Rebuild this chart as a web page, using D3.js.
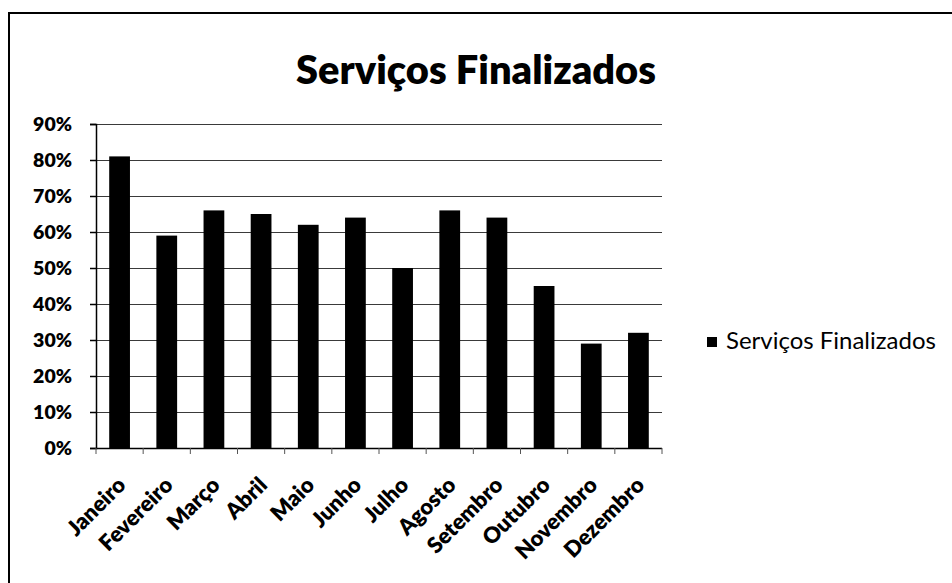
<!DOCTYPE html>
<html>
<head>
<meta charset="utf-8">
<script src="https://cdn.jsdelivr.net/npm/d3@7"></script>
<style>
  body { margin: 0; background: #fff; }
  svg { display: block; }
  text { font-family: Lato, "Open Sans", sans-serif; fill: #000; }
</style>
</head>
<body>
<svg id="chart" width="952" height="583"></svg>
<script>
// dados do grafico
const meses = ["Janeiro", "Fevereiro", "Março", "Abril", "Maio", "Junho",
  "Julho", "Agosto", "Setembro", "Outubro", "Novembro", "Dezembro"];
const finalizados = [0.81, 0.59, 0.66, 0.65, 0.62, 0.64, 0.50, 0.66, 0.64, 0.45, 0.29, 0.32];
const yTicks = [0, 0.1, 0.2, 0.3, 0.4, 0.5, 0.6, 0.7, 0.8, 0.9];
const titulo = "Serviços Finalizados";
const serieNome = "Serviços Finalizados";

const svg = d3.select('#chart');
const plot = {left: 96, right: 662, top: 124, bottom: 448};

// ajusta o tamanho da fonte para caber numa largura
function fitWidth(sel, target) {
  let size = parseFloat(sel.style('font-size'));
  let w = sel.node().getComputedTextLength();
  sel.style('font-size', (size * target / w).toFixed(2) + 'px');
}

// moldura (só topo e esquerda aparecem)
svg.append('line').attr('x1', 9).attr('x2', 952).attr('y1', 13).attr('y2', 13)
  .attr('stroke', '#000').attr('stroke-width', 2);
svg.append('line').attr('x1', 9).attr('x2', 9).attr('y1', 12).attr('y2', 583)
  .attr('stroke', '#000').attr('stroke-width', 2);

let x = d3.scaleBand().domain(meses).range([plot.left, plot.right]).paddingInner(0.56).paddingOuter(0.28);
let y = d3.scaleLinear().domain([0, 0.9]).range([plot.bottom, plot.top]);

// grade
svg.append('g').selectAll('line').data(yTicks.slice(1)).join('line')
  .attr('x1', plot.left).attr('x2', plot.right)
  .attr('y1', d => Math.round(y(d)) + 0.5).attr('y2', d => Math.round(y(d)) + 0.5)
  .attr('stroke', '#3a3a3a').attr('stroke-width', 1);

// barras
svg.append('g').selectAll('rect').data(finalizados).join('rect')
  .attr('x', (d, i) => x(meses[i]))
  .attr('y', d => y(d))
  .attr('width', x.bandwidth())
  .attr('height', d => y(0) - y(d))
  .attr('fill', '#000');

// eixo y
let yAxis = d3.axisLeft(y).tickValues(yTicks).tickFormat(d3.format('.0%')).tickSize(6).tickPadding(18);
let gy = svg.append('g').attr('transform', `translate(${plot.left},0)`).call(yAxis);
gy.select('.domain').attr('stroke', '#000').attr('stroke-width', 1.5);
gy.selectAll('.tick line').attr('stroke', '#000').attr('stroke-width', 1.5);
gy.selectAll('text').style('font-size', '19.5px').style('font-weight', 800).attr('dy', '0.35em');

// eixo x: tracinhos entre categorias
let step = x.step();
let bounds = d3.range(meses.length + 1).map(i => plot.left + i * step);
svg.append('line').attr('x1', plot.left).attr('x2', plot.right)
  .attr('y1', plot.bottom + 0.5).attr('y2', plot.bottom + 0.5).attr('stroke', '#000').attr('stroke-width', 1.5);
svg.append('g').selectAll('line').data(bounds).join('line')
  .attr('x1', d => d).attr('x2', d => d)
  .attr('y1', plot.bottom).attr('y2', plot.bottom + 6)
  .attr('stroke', '#555').attr('stroke-width', 1);

svg.append('g').selectAll('text').data(meses).join('text')
  .attr('transform', d => `translate(${x(d) + x.bandwidth() / 2 + 2},${plot.bottom + 33}) rotate(-45)`)
  .attr('text-anchor', 'end')
  .attr('dy', '0.35em')
  .style('font-size', '22px')
  .style('font-weight', 800)
  .text(d => d);

// titulo
let t = svg.append('text').attr('x', 476).attr('y', 84).attr('text-anchor', 'middle')
  .style('font-size', '40px').style('font-weight', 800).text(titulo);
fitWidth(t, 360);

// legenda
svg.append('rect').attr('x', 707).attr('y', 337).attr('width', 10).attr('height', 10).attr('fill', '#000');
let lg = svg.append('text').attr('x', 726).attr('y', 349).style('font-size', '20px').text(serieNome);
fitWidth(lg, 210);
</script>
</body>
</html>
